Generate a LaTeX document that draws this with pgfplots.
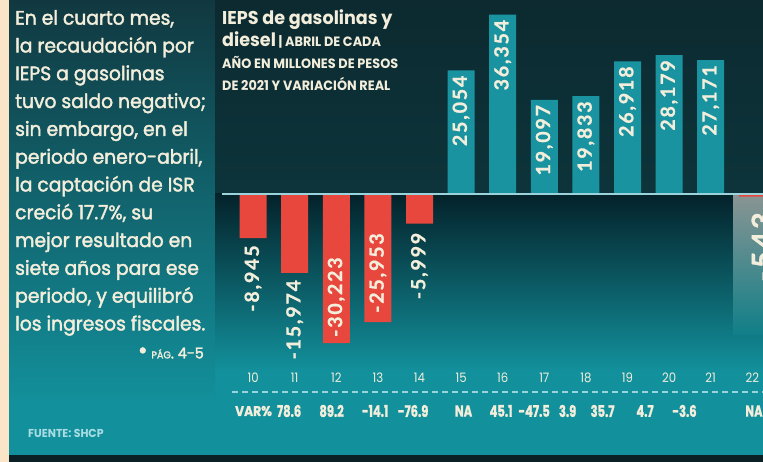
\documentclass[border=0pt]{standalone}
\usepackage{fontspec}
\usepackage{pgfplots}
\pgfplotsset{compat=1.18}
\setmainfont{Poppins}
\newfontfamily\leftfont{Poppins}[FakeStretch=0.96, FakeBold=2]
\newfontfamily\titlefont{Poppins}[FakeStretch=0.95]
\newfontfamily\condfont{Poppins}[FakeStretch=0.72, FakeBold=1.2]
\newfontfamily\varfont{Poppins}[FakeStretch=0.88, FakeBold=1.2]
\newfontfamily\tickfont{Poppins}[FakeStretch=0.9]
\newfontfamily\valfont{Lato}[LetterSpace=9.5, FakeBold=1]
\definecolor{cream}{HTML}{F3EEDB}
\definecolor{tealbar}{HTML}{1A93A0}
\definecolor{redbar}{HTML}{E8473D}
\definecolor{beige}{HTML}{FBE5C8}
\definecolor{strip}{HTML}{0B2025}
\definecolor{topdark}{HTML}{0C2A30}
\definecolor{paneltop}{HTML}{113840}
\definecolor{teal}{HTML}{12909B}
\definecolor{deep}{HTML}{04222A}
\definecolor{lineblue}{HTML}{9AD3DB}
\definecolor{fuente}{HTML}{A9DDE3}
\definecolor{hlgray}{HTML}{8A9593}
\begin{document}
\begin{tikzpicture}[x=1pt,y=1pt, lab/.style={rotate=90, inner sep=0pt, text=cream, font=\valfont\bfseries\fontsize{19.5}{19.5}\selectfont}]
\useasboundingbox (0,0) rectangle (763,462);
\clip (0,0) rectangle (763,462);
% backgrounds
\fill[teal] (0,0) rectangle (763,462);
\shade[top color=paneltop, bottom color=teal] (9,60) rectangle (215,462);
\shade[top color=topdark, bottom color=topdark!90!teal] (215,268) rectangle (763,462);
\shade[top color=deep, bottom color=teal] (215,92) rectangle (763,268);
\fill[beige] (0,0) rectangle (9,462);
\fill[strip] (9,0) rectangle (763,7);
% highlight box for 22
\shade[top color=hlgray, bottom color=teal!88!black] (733,127) rectangle (763,268);
\begin{axis}[
  at={(224pt,100.3pt)}, anchor=south west, scale only axis,
  width=539pt, height=360pt,
  xmin=9.3, xmax=22.257, ymin=-34000, ymax=39000,
  axis line style={draw=none},
  ytick=\empty, xtick={10,...,22}, major tick length=0pt,
  /pgf/number format/assume math mode=true,
  xticklabel style={anchor=center, yshift=-16.3pt, text=cream,
    font=\tickfont\fontsize{13}{13}\selectfont},
  clip=false, ybar, bar width=27pt, bar shift=0pt,
]
\addplot[fill=redbar, draw=none] coordinates {(10,-8945) (11,-15974) (12,-30223) (13,-25953) (14,-5999) (22,-543)};
\addplot[fill=tealbar, draw=none] coordinates {(15,25054) (16,36354) (17,19097) (18,19833) (19,26918) (20,28179) (21,27171)};
% value labels (shift first, then rotate)
\node[yshift=-5pt, lab, anchor=east] at (axis cs:15,25054) {25,054};
\node[yshift=-5pt, lab, anchor=east] at (axis cs:16,36354) {36,354};
\node[yshift=-5pt, lab, anchor=east] at (axis cs:17,19097) {19,097};
\node[yshift=-5pt, lab, anchor=east] at (axis cs:18,19833) {19,833};
\node[yshift=-5pt, lab, anchor=east] at (axis cs:19,26918) {26,918};
\node[yshift=-5pt, lab, anchor=east] at (axis cs:20,28179) {28,179};
\node[yshift=-5pt, lab, anchor=east] at (axis cs:21,27171) {27,171};
\node[yshift=-7pt, lab, anchor=east] at (axis cs:10,-8945) {-8,945};
\node[yshift=-7pt, lab, anchor=east] at (axis cs:11,-15974) {-15,974};
\node[yshift=6pt, lab, anchor=west] at (axis cs:12,-30223) {-30,223};
\node[yshift=9pt, lab, anchor=west] at (axis cs:13,-25953) {-25,953};
\node[yshift=-9pt, lab, anchor=east] at (axis cs:14,-5999) {-5,999};
\node[yshift=-15.3pt, xshift=10pt, lab, anchor=east, font=\valfont\bfseries\fontsize{29}{29}\selectfont] at (axis cs:22,-543) {-543};
% VAR row
\begin{scope}[every node/.style={anchor=center, inner sep=0pt, text=cream, yshift=-49.3pt, font=\condfont\bfseries\fontsize{16}{16}\selectfont}]
\node[font=\varfont\bfseries\fontsize{14}{14}\selectfont] at (axis cs:10.01,-34000) {VAR\%};
\node at (axis cs:10.865,-34000) {78.6};
\node at (axis cs:11.887,-34000) {89.2};
\node at (axis cs:12.933,-34000) {-14.1};
\node at (axis cs:13.846,-34000) {-76.9};
\node at (axis cs:15.06,-34000) {NA};
\node at (axis cs:15.96,-34000) {45.1};
\node at (axis cs:16.755,-34000) {-47.5};
\node at (axis cs:17.56,-34000) {3.9};
\node at (axis cs:18.40,-34000) {35.7};
\node at (axis cs:19.42,-34000) {4.7};
\node at (axis cs:20.37,-34000) {-3.6};
\node[anchor=west] at (axis cs:21.83,-34000) {NA};
\end{scope}
\end{axis}
% baseline and dashed line
\draw[lineblue, line width=2pt] (222,268) -- (763,268);
\draw[lineblue, line width=1.2pt, dash pattern=on 6pt off 4pt] (232,70) -- (763,70);
% left text
\node[anchor=north west, inner sep=0pt, align=left, text=cream,
  font=\leftfont\fontsize{19.5}{27.8}\selectfont] at (15,452)
  {En el cuarto mes,\\la recaudación por\\IEPS a gasolinas\\tuvo saldo negativo;\\sin embargo, en el\\periodo enero-abril,\\la captación de ISR\\creció 17.7\%, su\\mejor resultado en\\siete años para ese\\periodo, y equilibró\\los ingresos fiscales.};
\node[anchor=east, inner sep=0pt, text=cream, font=\leftfont\fontsize{15}{15}\selectfont] at (204,109)
  {{\fontsize{24}{24}\selectfont\textbullet}\ {\fontsize{10}{10}\selectfont PÁG}. 4-5};
% title
\node[anchor=north west, inner sep=0pt, align=left, text=cream,
  font=\titlefont\bfseries\fontsize{13.5}{22}\selectfont] at (222,453)
  {{\fontsize{18.5}{22}\selectfont IEPS de gasolinas y}\\{\fontsize{18.5}{22}\selectfont diesel} \textbar\ ABRIL DE CADA\\AÑO EN MILLONES DE PESOS\\DE 2021 Y VARIACIÓN REAL};
% source
\node[anchor=west, inner sep=0pt, text=fuente, font=\titlefont\bfseries\fontsize{11.5}{11.5}\selectfont] at (28,29) {FUENTE: SHCP};
\end{tikzpicture}
\end{document}
